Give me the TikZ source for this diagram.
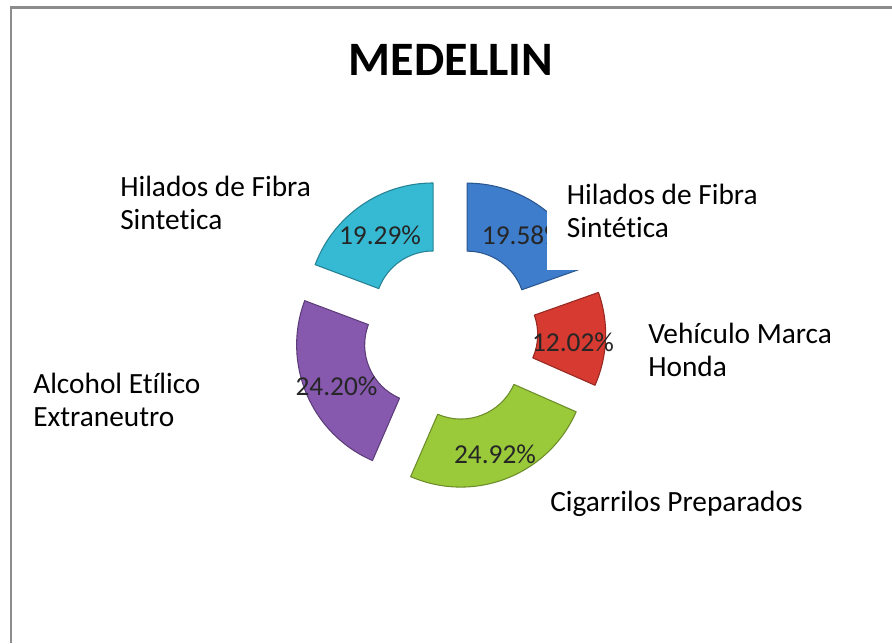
\documentclass[tikz,border=0pt]{standalone}
\usepackage{fontspec}
\setmainfont{Carlito}[Ligatures=NoCommon]
\definecolor{pieblue}{RGB}{62,124,204}
\definecolor{piered}{RGB}{214,58,48}
\definecolor{piegreen}{RGB}{154,202,58}
\definecolor{piepurple}{RGB}{134,88,174}
\definecolor{piecyan}{RGB}{54,186,212}
\definecolor{framegray}{RGB}{140,140,140}
\usetikzlibrary{positioning}
\tikzset{
x=0.75pt, y=0.75pt, % one unit is one pixel of the chart
slice/.style={fill=#1, draw=#1!70!black, line width=0.8pt, line join=round}, % one piece of the doughnut
pct/.style={font=\fontsize{20.5}{24}\selectfont, text=black!85, inner sep=0pt, anchor=base}, % percent inside a piece
legend/.style={font=\fontsize{22}{25}\selectfont, align=left, inner sep=0pt, anchor=base west}, % category names (base = last line)
}

\begin{document}
\begin{tikzpicture}
      \useasboundingbox (0,0) rectangle (892,643);
      \draw[framegray, line width=2.2pt] (11,0) -- (11,635.5) -- (892,635.5);

      \node[font=\fontsize{36}{40}\selectfont\bfseries, inner sep=0pt, anchor=base] (title) at (451,567) {MEDELLIN};

      \begin{scope}[shift={(450,309.6)}]
        \path[slice=pieblue, shift={(54.75:29.7)}] (90:126) arc[start angle=90, end angle=19.51, radius=126]
          -- (19.51:58) arc[start angle=19.51, end angle=90, radius=58] -- cycle;
        \path[slice=piered, shift={(-2.13:29.7)}] (19.51:126) arc[start angle=19.51, end angle=-23.76, radius=126]
          -- (-23.76:58) arc[start angle=-23.76, end angle=19.51, radius=58] -- cycle;
        \path[slice=piegreen, shift={(-68.6:29.7)}] (-23.76:126) arc[start angle=-23.76, end angle=-113.47, radius=126]
          -- (-113.47:58) arc[start angle=-113.47, end angle=-23.76, radius=58] -- cycle;
        \path[slice=piepurple, shift={(-157.03:29.7)}] (-113.47:126) arc[start angle=-113.47, end angle=-200.59, radius=126]
          -- (-200.59:58) arc[start angle=-200.59, end angle=-113.47, radius=58] -- cycle;
        \path[slice=piecyan, shift={(-235.3:29.7)}] (-200.59:126) arc[start angle=-200.59, end angle=-270, radius=126]
          -- (-270:58) arc[start angle=-270, end angle=-200.59, radius=58] -- cycle;
      \end{scope}

      \node[pct] (pcyan) at (380,398) {19.29\%};
      \node[pct, anchor=base west] (pblue) at (481.7,398) {19.58\%};
      \node[pct] (pred) at (573,291.3) {12.02\%};
      \node[pct] (pgreen) at (495,180) {24.92\%};
      \node[pct] (ppurple) at (336.5,247) {24.20\%};

      \fill[white] (547,373) rectangle (790,471);

      \node[legend] (lblcyan) at (120,413) {Hilados de Fibra\\Sintetica};
      \node[legend] (lblblue) at (566.7,405) {Hilados de Fibra\\Sintética};
      \node[legend] (lblred) at (648,266.3) {Vehículo Marca\\Honda};
      \node[legend] (lblpurple) at (33,216.3) {Alcohol Etílico\\Extraneutro};
      \node[legend] (lblgreen) at (550,131.3) {Cigarrilos Preparados};
\end{tikzpicture}
\end{document}
